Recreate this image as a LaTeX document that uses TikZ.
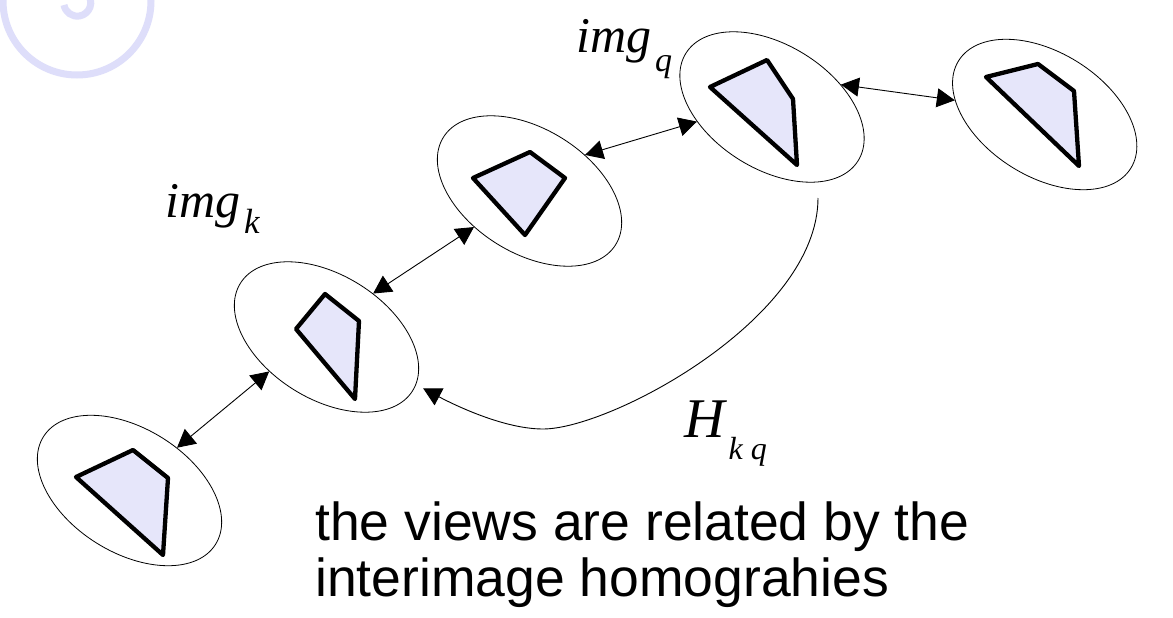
\documentclass[tikz,border=0pt]{standalone}
\usepackage{fontspec}
\setmainfont{Liberation Serif}
\setsansfont{Liberation Sans}
\usetikzlibrary{arrows.meta,shapes.geometric}
\definecolor{quadfill}{RGB}{230,230,250}
\definecolor{wmark}{RGB}{222,222,250}
\begin{document}
\begin{tikzpicture}[x=1pt,y=-1pt,
  view/.style={draw=black, line width=0.8pt, ellipse, minimum width=203pt,
    minimum height=124pt, inner sep=0pt, rotate=-32},
  quad/.style={draw=black, line width=4.3pt, fill=quadfill, line join=round},
  link/.style={line width=0.9pt,
    {Triangle[length=18pt,width=19pt]}-{Triangle[length=18pt,width=19pt]}},
  homog/.style={line width=0.9pt, -{Triangle[length=18pt,width=19pt]}},
  mlabel/.style={anchor=base west, inner sep=0pt, font=\itshape\fontsize{50}{50}\selectfont},
  caption/.style={anchor=base west, inner sep=0pt, font=\sffamily\fontsize{53.5}{56}\selectfont},
  wmarkline/.style={draw=wmark, line width=7pt}]
\useasboundingbox (0,0) rectangle (1173,618);
\fill[white] (0,0) rectangle (1173,618);

% watermark fragment
\draw[wmarkline] (77,1) circle[radius=74];
\draw[wmarkline] (64,5) arc[start angle=170, end angle=-15, radius=13.5];

% views
\node[view] (e1) at (129.5,490.5) {};
\node[view] (e2) at (326.5,337) {};
\node[view] (e3) at (529.5,191) {};
\node[view] (e4) at (772,107) {};
\node[view] (e5) at (1044.7,114.5) {};

% quadrilaterals
\draw[quad] (76,477) -- (133,450) -- (168,478) -- (163,555) -- cycle;
\draw[quad] (296,329) -- (325,294) -- (359,321) -- (355,399) -- cycle;
\draw[quad] (473,178) -- (530,152) -- (565,178) -- (525,235) -- cycle;
\draw[quad] (710,87) -- (767,60) -- (793,99) -- (797,165) -- cycle;
\draw[quad] (986,77) -- (1038,64) -- (1074,91) -- (1079,166) -- cycle;

% homographies between neighbours
\draw[link] (e1.74.5) -- (e2.243.6);
\draw[link] (e2.75.5) -- (e3.245.7);
\draw[link] (e3.65) -- (e4.223.5);
\draw[link] (e4.50) -- (e5.203);

% H_kq
\coordinate (hstart) at (818,198);
\coordinate (hlow) at (543,429);
\draw[homog, shorten >=8pt] (hstart) .. controls (818,318) and (611,429) .. (hlow)
  .. controls (500,429) and (445,400) .. (e2.4.2);

% labels
\node[mlabel] (lk) at (165,217) {img\hspace{4pt}\raisebox{-16pt}{\fontsize{35}{35}\selectfont k}};
\node[mlabel] (lq) at (576,53) {img\hspace{4pt}\raisebox{-18pt}{\fontsize{34}{34}\selectfont q}};
\node[anchor=base west, inner sep=0pt, font=\itshape\fontsize{56}{56}\selectfont] (lh) at (684,437)
  {H\hspace{4pt}\raisebox{-22pt}{\fontsize{32}{32}\selectfont k\hspace{8pt}q}};
\node[caption] (c1) at (315,540) {the views are related by the};
\node[caption] (c2) at (315,596) {interimage homograhies};
\end{tikzpicture}
\end{document}
